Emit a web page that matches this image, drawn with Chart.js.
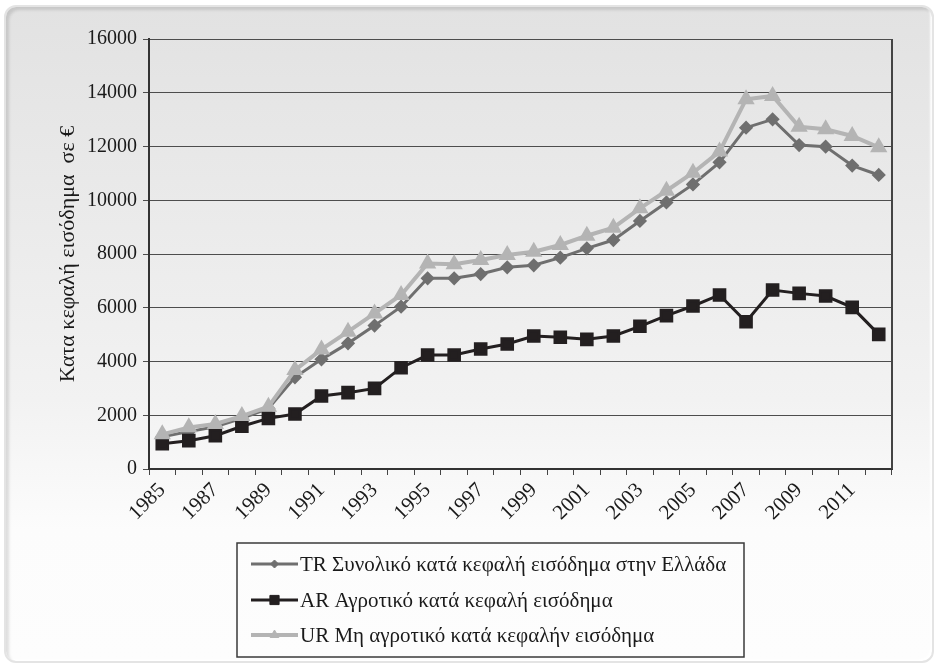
<!DOCTYPE html>
<html>
<head>
<meta charset="utf-8">
<script src="https://cdn.jsdelivr.net/npm/chart.js@4.4.0/dist/chart.umd.min.js"></script>
<style>
  html, body { margin: 0; padding: 0; background: #fff; }
  .wrap { position: relative; width: 938px; height: 668px; overflow: hidden; }
  .frame {
    position: absolute; left: 4px; top: 5px; width: 926px; height: 654px;
    border: 2px solid #e4e4e4; border-radius: 12px;
    background: linear-gradient(to bottom, #e2e2e2 0%, #f2f2f2 60%, #fcfcfc 80%, #fdfdfd 100%);
    box-shadow: inset 3px 3px 3px rgba(0,0,0,0.12), inset -2px -2px 2px rgba(255,255,255,0.9);
  }
  canvas { position: absolute; left: 0; top: 0; }
</style>
</head>
<body>
<div class="wrap">
  <div class="frame"></div>
  <canvas id="myChart" width="938" height="668"></canvas>
</div>
<script>
// years on the x axis
const years = [1985, 1986, 1987, 1988, 1989, 1990, 1991, 1992, 1993, 1994, 1995, 1996, 1997, 1998,
  1999, 2000, 2001, 2002, 2003, 2004, 2005, 2006, 2007, 2008, 2009, 2010, 2011, 2012];

// TR - total per capita income
const totalIncome = [1200, 1390, 1575, 1885, 2255, 3410, 4080, 4675, 5335, 6040, 7095, 7095, 7255, 7505,
  7580, 7865, 8210, 8520, 9230, 9920, 10590, 11410, 12700, 13010, 12055, 11995, 11290, 10940];

// AR - agricultural per capita income
const agriIncome = [940, 1055, 1240, 1590, 1885, 2045, 2715, 2840, 3000, 3770, 4240, 4240, 4465, 4650,
  4950, 4900, 4825, 4950, 5310, 5705, 6065, 6475, 5480, 6660, 6535, 6435, 6015, 5010];

// UR - non agricultural per capita income
const nonAgriIncome = [1290, 1550, 1675, 1970, 2320, 3680, 4450, 5110, 5790, 6475, 7650, 7620, 7775, 7960,
  8085, 8335, 8680, 8980, 9700, 10355, 11025, 11810, 13755, 13880, 12735, 12640, 12390, 11970];

const yTicks = [0, 2000, 4000, 6000, 8000, 10000, 12000, 14000, 16000];

const seriesNames = [
  'TR Συνολικό κατά κεφαλή εισόδημα στην Ελλάδα',
  'AR Αγροτικό κατά κεφαλή εισόδημα',
  'UR Μη αγροτικό κατά κεφαλήν εισόδημα'
];

const serif = "'Liberation Serif', 'DejaVu Serif', serif";

// plot frame on the right side + boxed legend under the chart
const boxLegend = {
  id: 'boxLegend',
  beforeDatasetsDraw(chart) {
    const { ctx, chartArea } = chart;
    ctx.save();
    ctx.strokeStyle = '#444';
    ctx.lineWidth = 2;
    ctx.beginPath();
    ctx.moveTo(chartArea.right, chartArea.top);
    ctx.lineTo(chartArea.right, chartArea.bottom);
    ctx.stroke();
    ctx.restore();
  },
  afterDraw(chart) {
    const ctx = chart.ctx;
    const bx = 237, by = 543, bw = 507, bh = 114;
    ctx.save();
    ctx.strokeStyle = '#3a3a3a';
    ctx.lineWidth = 1.5;
    ctx.strokeRect(bx, by, bw, bh);
    const rows = [564, 600, 635];
    chart.data.datasets.forEach((ds, i) => {
      const y = rows[i];
      ctx.strokeStyle = ds.borderColor;
      ctx.lineWidth = ds.borderWidth;
      ctx.beginPath();
      ctx.moveTo(251, y);
      ctx.lineTo(298, y);
      ctx.stroke();
      ctx.fillStyle = ds.pointBackgroundColor;
      ctx.strokeStyle = ds.pointBorderColor;
      ctx.lineWidth = 1;
      Chart.helpers.drawPoint(ctx, {
        pointStyle: ds.pointStyle,
        radius: ds.pointRadius - 1,
        borderWidth: 1
      }, 274.5, y);
      ctx.fillStyle = '#1a1a1a';
      ctx.font = '21px ' + serif;
      ctx.textBaseline = 'middle';
      ctx.textAlign = 'left';
      ctx.fillText(ds.label, 300, y + 1);
    });
    ctx.restore();
  }
};

const ctx1 = document.getElementById('myChart').getContext('2d');
new Chart(ctx1, {
  type: 'line',
  data: {
    labels: years,
    datasets: [
      {
        label: seriesNames[0],
        data: totalIncome,
        borderColor: '#6f6f6f',
        backgroundColor: '#6f6f6f',
        pointBackgroundColor: '#6f6f6f',
        pointBorderColor: '#6f6f6f',
        borderWidth: 3,
        pointStyle: 'rectRot',
        pointRadius: 5,
        order: 2
      },
      {
        label: seriesNames[1],
        data: agriIncome,
        borderColor: '#231f20',
        backgroundColor: '#231f20',
        pointBackgroundColor: '#231f20',
        pointBorderColor: '#231f20',
        borderWidth: 3,
        pointStyle: 'rect',
        pointRadius: 7.5,
        order: 1
      },
      {
        label: seriesNames[2],
        data: nonAgriIncome,
        borderColor: '#b4b4b4',
        backgroundColor: '#b4b4b4',
        pointBackgroundColor: '#b4b4b4',
        pointBorderColor: '#b4b4b4',
        borderWidth: 4,
        pointStyle: 'triangle',
        pointRadius: 6,
        order: 0
      }
    ]
  },
  options: {
    responsive: false,
    animation: false,
    layout: { padding: { top: 39, right: 46, left: 0, bottom: 0 } },
    plugins: {
      legend: { display: false },
      tooltip: { enabled: false }
    },
    scales: {
      x: {
        offset: true,
        grid: { offset: true, drawOnChartArea: false, drawTicks: true, tickLength: 6, color: '#444', lineWidth: 1 },
        border: { color: '#333', width: 2 },
        ticks: {
          autoSkip: false,
          minRotation: 45,
          maxRotation: 45,
          padding: 3,
          color: '#1a1a1a',
          font: { family: serif, size: 21 },
          callback: (v, i) => (i % 2 === 0 ? String(years[i]) : '')
        },
        afterFit: s => { s.height = 199; }
      },
      y: {
        min: 0,
        max: 16000,
        afterBuildTicks: s => { s.ticks = yTicks.map(v => ({ value: v })); },
        grid: { color: '#4d4d4d', lineWidth: 1, tickLength: 6 },
        border: { color: '#333', width: 2 },
        ticks: {
          padding: 6,
          color: '#1a1a1a',
          font: { family: serif, size: 20 },
          callback: v => String(v)
        },
        title: {
          display: true,
          text: 'Κατα κεφαλή εισόδημα  σε €',
          color: '#1a1a1a',
          font: { family: serif, size: 22 },
          padding: { top: 55, bottom: 0 }
        },
        afterFit: s => { s.width = 149; }
      }
    }
  },
  plugins: [boxLegend]
});
</script>
</body>
</html>
